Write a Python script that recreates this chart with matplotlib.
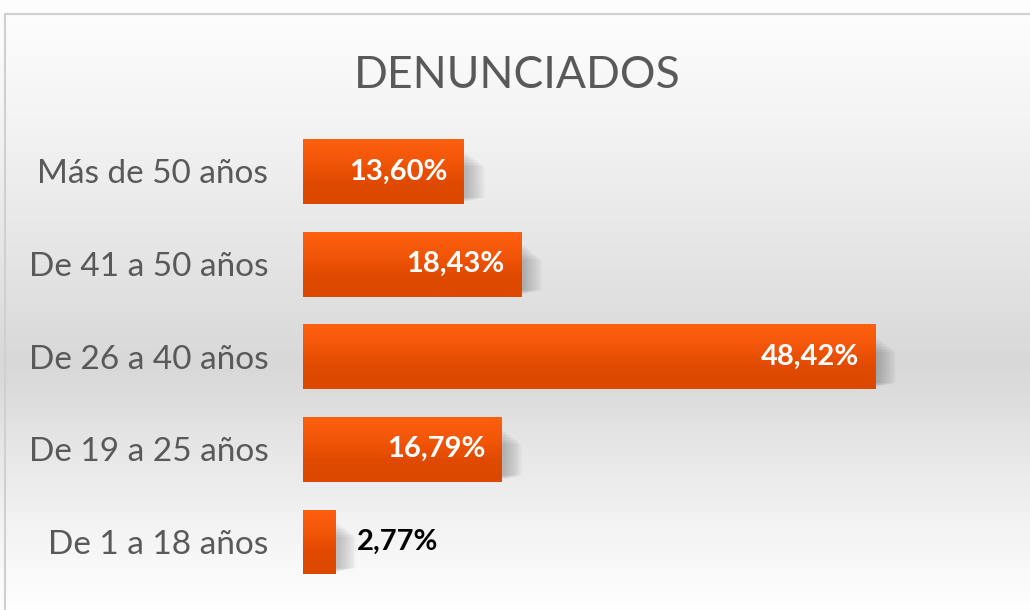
import numpy as np
import matplotlib
matplotlib.use("Agg")
import matplotlib.pyplot as plt
from matplotlib.colors import LinearSegmentedColormap

plt.rcParams['font.family'] = ['Lato', 'DejaVu Sans']

categorias = ['De 1 a 18 años', 'De 19 a 25 años', 'De 26 a 40 años',
              'De 41 a 50 años', 'Más de 50 años']
valores = [2.77, 16.79, 48.42, 18.43, 13.60]
etiquetas = ['2,77%', '16,79%', '48,42%', '18,43%', '13,60%']
titulo = 'DENUNCIADOS'

fig = plt.figure(figsize=(10.3, 6.1), dpi=100)

# fondo con degradado blanco - gris - blanco
fondo = fig.add_axes([0, 0, 1, 1])
fondo.set_axis_off()
grad = np.concatenate([np.linspace(0, 1, 60) ** 1.2, np.linspace(1, 0, 40) ** 1.2])
cmap_fondo = LinearSegmentedColormap.from_list('f', ['#fdfdfd', '#d8d8d8'])
fondo.imshow(grad.reshape(-1, 1), aspect='auto', cmap=cmap_fondo,
             extent=[0, 1, 0, 1], origin='upper', vmin=0, vmax=1)
fondo.set_xlim(0, 1)
fondo.set_ylim(0, 1)
fondo.plot([4.5 / 1030, 4.5 / 1030, 1], [0, 1 - 13.5 / 610, 1 - 13.5 / 610],
           color='#d0d0d0', lw=1.5)

ax = fig.add_axes([303 / 1030, 0.0356, 591.6 / 1030, 0.7592])
ax.patch.set_alpha(0)
for s in ax.spines.values():
    s.set_visible(False)
ax.set_xticks([])
ax.set_yticks(range(len(categorias)))
ax.set_yticklabels(categorias, fontsize=24, color='#595959')
ax.tick_params(axis='y', length=0, pad=25)

y = np.arange(len(categorias))
alto = 0.7

# sombra difusa abajo a la derecha
for k in range(10):
    ax.barh(y - 0.06 - k * 0.006, np.array(valores) + 0.3 + k * 0.16,
            height=alto * (0.75 - k * 0.03), color='#000000', alpha=0.022,
            zorder=1, linewidth=0)

barras = ax.barh(y, valores, height=alto, color='#f05a0a', zorder=2, linewidth=0)
cmap_barra = LinearSegmentedColormap.from_list('b', ['#ff600f', '#f25609', '#e04a00', '#dc4800'])
for b in barras:
    x0, y0 = b.get_x(), b.get_y()
    w, h = b.get_width(), b.get_height()
    im = ax.imshow(np.linspace(1, 0, 50).reshape(-1, 1), aspect='auto', cmap=cmap_barra,
                   extent=[x0, x0 + w, y0, y0 + h], origin='lower', zorder=3)
    im.set_clip_path(b)

ax.set_xlim(0, 50)
ax.set_ylim(-0.5, 4.5)

for yi, v, lab in zip(y, valores, etiquetas):
    if v > 5:
        ax.text(v - 1.4, yi, lab, ha='right', va='center', fontsize=21,
                fontweight='bold', color='white', zorder=4)
    else:
        ax.text(v + 1.8, yi, lab, ha='left', va='center', fontsize=21,
                fontweight='bold', color='black', zorder=4)

fig.text(517 / 1030, 1 - 75 / 610, titulo, ha='center', va='center',
         fontsize=32, color='#595959')

fig.savefig('out.png', dpi=100)
